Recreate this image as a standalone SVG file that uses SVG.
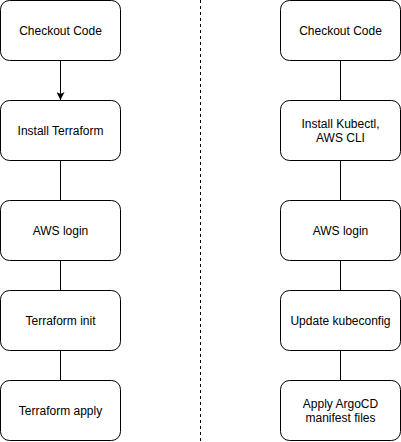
<svg xmlns="http://www.w3.org/2000/svg" width="401" height="442" viewBox="0 0 401 442">
<style>
.box{fill:#fff;stroke:#000;stroke-width:1}
.t{font-family:"Liberation Sans",Arial,sans-serif;font-size:12px;fill:#000;text-anchor:middle}
.c{stroke:#000;stroke-width:1;fill:none}
</style>
<defs>
<marker id="ah" viewBox="0 0 10 10" refX="10" refY="5" markerWidth="8" markerHeight="8" markerUnits="userSpaceOnUse" orient="auto">
<path d="M0,0 L10,5 L0,10 L2.5,5 Z" fill="#000"/>
</marker>
</defs>
<rect width="401" height="442" fill="#fff"/>
<g id="connectors">
<line class="c" x1="200.5" y1="0" x2="200.5" y2="442" stroke-dasharray="3 3"/>
<line class="c" x1="60.5" y1="60.5" x2="60.5" y2="100" marker-end="url(#ah)"/>
<line class="c" x1="60.5" y1="160.5" x2="60.5" y2="200.5"/>
<line class="c" x1="60.5" y1="260.5" x2="60.5" y2="290.5"/>
<line class="c" x1="60.5" y1="350.5" x2="60.5" y2="380.5"/>
<line class="c" x1="340.5" y1="60.5" x2="340.5" y2="100.5"/>
<line class="c" x1="340.5" y1="160.5" x2="340.5" y2="200.5"/>
<line class="c" x1="340.5" y1="260.5" x2="340.5" y2="290.5"/>
<line class="c" x1="340.5" y1="350.5" x2="340.5" y2="380.5"/>
</g>
<g id="l1"><rect class="box" x="0.5" y="0.5" width="120" height="60" rx="9"/><text class="t" x="60.5" y="34.5">Checkout Code</text></g>
<g id="l2"><rect class="box" x="0.5" y="100.5" width="120" height="60" rx="9"/><text class="t" x="60.5" y="134.5">Install Terraform</text></g>
<g id="l3"><rect class="box" x="0.5" y="200.5" width="120" height="60" rx="9"/><text class="t" x="60.5" y="234.5">AWS login</text></g>
<g id="l4"><rect class="box" x="0.5" y="290.5" width="120" height="60" rx="9"/><text class="t" x="60.5" y="324.5">Terraform init</text></g>
<g id="l5"><rect class="box" x="0.5" y="380.5" width="120" height="60" rx="9"/><text class="t" x="60.5" y="414.5">Terraform apply</text></g>
<g id="r1"><rect class="box" x="280.5" y="0.5" width="120" height="60" rx="9"/><text class="t" x="340.5" y="34.5">Checkout Code</text></g>
<g id="r2"><rect class="box" x="280.5" y="100.5" width="120" height="60" rx="9"/><text class="t" x="340.5" y="127.5">Install Kubectl,</text><text class="t" x="340.5" y="141.5">AWS CLI</text></g>
<g id="r3"><rect class="box" x="280.5" y="200.5" width="120" height="60" rx="9"/><text class="t" x="340.5" y="234.5">AWS login</text></g>
<g id="r4"><rect class="box" x="280.5" y="290.5" width="120" height="60" rx="9"/><text class="t" x="340.5" y="324.5">Update kubeconfig</text></g>
<g id="r5"><rect class="box" x="280.5" y="380.5" width="120" height="60" rx="9"/><text class="t" x="340.5" y="407.5">Apply ArgoCD</text><text class="t" x="340.5" y="421.5">manifest files</text></g>
</svg>
